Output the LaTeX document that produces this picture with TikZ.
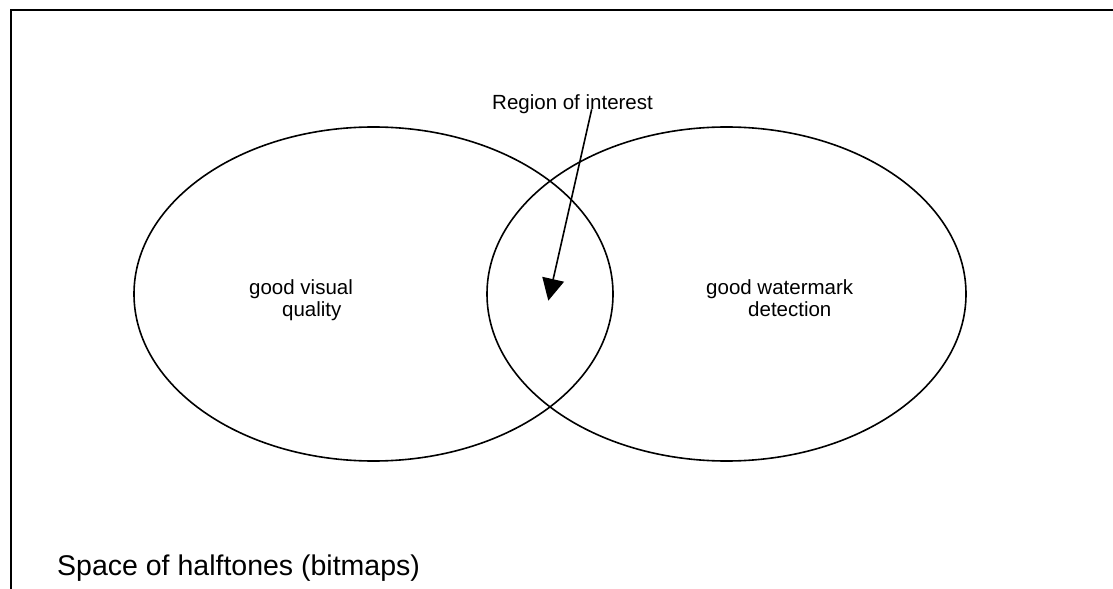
\documentclass[tikz,border=0pt]{standalone}
\usepackage{fontspec}
\setmainfont{Liberation Sans}
\usetikzlibrary{shapes.geometric,arrows.meta}

\tikzset{
  setbox/.style={draw, ellipse, line width=1.6bp, inner sep=0pt,
    minimum width=479bp, minimum height=334bp},
  setlabel/.style={inner sep=0pt, align=left, anchor=north west,
    font=\fontsize{20.5bp}{22bp}\selectfont},
  plainlabel/.style={inner sep=0pt, anchor=base west,
    font=\fontsize{20.5bp}{22bp}\selectfont},
  spacelabel/.style={inner sep=0pt, anchor=base west,
    font=\fontsize{28.5bp}{32bp}\selectfont},
  frameline/.style={line width=2.2bp},
  pointer/.style={line width=1.6bp, -{Triangle[length=22bp,width=22bp]}}
}

\begin{document}
\begin{tikzpicture}[x=1bp, y=-1bp]
  \useasboundingbox (0,0) rectangle (1113,589);

  % open frame around the space of halftones
  \draw[frameline] (11,589) -- (11,10) -- (1113,10);

  % the two overlapping sets
  \node[setbox] (visual) at (373.5,294) {};
  \node[setbox] (detect) at (726.5,294) {};

  % set labels
  \node[setlabel] (visualtext) at (249,279) {good visual\\\hspace*{33bp}quality};
  \node[setlabel] (detecttext) at (706,279) {good watermark\\\hspace*{42bp}detection};

  % region of interest pointer
  \node[plainlabel] (roi) at (492,110) {Region of interest};
  \coordinate (roiTail) at (591.7,109.3);
  \coordinate (roiTip) at (548.3,300.7);
  \draw[pointer] (roiTail) -- (roiTip);

  % caption of the whole space
  \node[spacelabel] (space) at (57,575) {Space of halftones (bitmaps)};
\end{tikzpicture}
\end{document}
